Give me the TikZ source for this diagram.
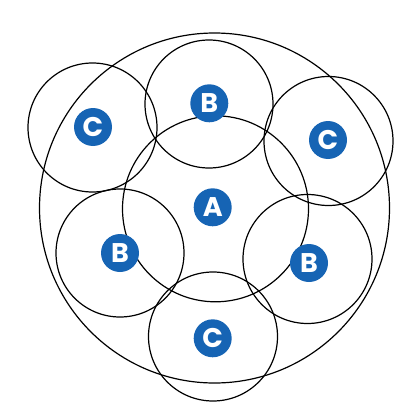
\documentclass[tikz,border=0pt]{standalone}
\usepackage{fontspec}
\newfontfamily\labfont{Poppins}
\definecolor{dotblue}{RGB}{22,100,180}
\begin{document}
\begin{tikzpicture}[x=1pt,y=-1pt,
  ring/.style={circle,draw=black,line width=1.2pt,inner sep=0pt},
  dot/.style={circle,fill=dotblue,inner sep=0pt,minimum size=38pt,text=white,font=\labfont\bfseries\fontsize{27}{27}\selectfont}]
\useasboundingbox (0,0) rectangle (420,420);
\node[ring,minimum size=350pt] (outer) at (214.5,208) {};
\node[ring,minimum size=186pt] (ringA) at (215.5,208.8) {};
\node[ring,minimum size=129pt] (ringC1) at (92.5,127.5) {};
\node[ring,minimum size=128pt] (ringB1) at (209,104) {};
\node[ring,minimum size=129pt] (ringC2) at (328.5,141) {};
\node[ring,minimum size=128pt] (ringB2) at (120,253) {};
\node[ring,minimum size=129pt] (ringB3) at (307.5,259) {};
\node[ring,minimum size=129pt] (ringC3) at (213,336.5) {};
\node[dot] (dA) at (212.7,207.3) {A};
\node[dot] (dC1) at (93,127) {C};
\node[dot] (dB1) at (209.3,103.3) {B};
\node[dot] (dC2) at (328,140) {C};
\node[dot] (dB2) at (120,253) {B};
\node[dot] (dB3) at (309,263) {B};
\node[dot] (dC3) at (212.7,338.3) {C};
\end{tikzpicture}
\end{document}
